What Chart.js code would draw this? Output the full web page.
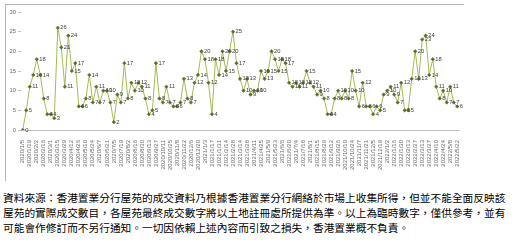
<!DOCTYPE html>
<html>
<head>
<meta charset="utf-8">
<script src="https://cdn.jsdelivr.net/npm/chart.js@4/dist/chart.umd.min.js"></script>
<style>
  html, body { margin: 0; padding: 0; background: #fff; }
  body { width: 523px; height: 245px; position: relative; overflow: hidden; }
  #frame { position: absolute; left: 5px; top: 4px; width: 458px; height: 176px;
           border-top: 1px solid #b4b4b4; border-left: 1px solid #b4b4b4; }
  #wrap { position: absolute; left: 0; top: 0; width: 523px; height: 185px; }
  #note { position: absolute; left: 3px; top: 190px; width: 520px;
          font-family: "Noto Sans CJK TC", "Noto Sans CJK SC", sans-serif;
          font-size: 10.7px; line-height: 15px; color: #000; white-space: nowrap; }
</style>
</head>
<body>
<div id="frame"></div>
<div id="wrap"><canvas id="c"></canvas></div>
<div id="note">資料來源：香港置業分行屋苑的成交資料乃根據香港置業分行網絡於市場上收集所得，但並不能全面反映該<br>屋苑的實際成交數目，各屋苑最終成交數字將以土地註冊處所提供為準。以上為臨時數字，僅供參考，並有<br>可能會作修訂而不另行通知。一切因依賴上述內容而引致之損失，香港置業概不負責。</div>
<script>
// Weekly periods (category axis)
const weeks = [
  "2020/1/5","2020/1/12","2020/1/19","2020/1/26","2020/2/2","2020/2/9","2020/2/16","2020/2/23",
  "2020/3/1","2020/3/8","2020/3/15","2020/3/22","2020/3/29","2020/4/5","2020/4/12","2020/4/19",
  "2020/4/26","2020/5/3","2020/5/10","2020/5/17","2020/5/24","2020/5/31","2020/6/7","2020/6/14",
  "2020/6/21","2020/6/28","2020/7/5","2020/7/12","2020/7/19","2020/7/26","2020/8/2","2020/8/9",
  "2020/8/16","2020/8/23","2020/8/30","2020/9/6","2020/9/13","2020/9/20","2020/9/27","2020/10/4",
  "2020/10/11","2020/10/18","2020/10/25","2020/11/1","2020/11/8","2020/11/15","2020/11/22","2020/11/29",
  "2020/12/6","2020/12/13","2020/12/20","2020/12/27","2021/1/3","2021/1/10","2021/1/17","2021/1/24",
  "2021/1/31","2021/2/7","2021/2/14","2021/2/21","2021/2/28","2021/3/7","2021/3/14","2021/3/21",
  "2021/3/28","2021/4/4","2021/4/11","2021/4/18","2021/4/25","2021/5/2","2021/5/9","2021/5/16",
  "2021/5/23","2021/5/30","2021/6/6","2021/6/13","2021/6/20","2021/6/27","2021/7/4","2021/7/11",
  "2021/7/18","2021/7/25","2021/8/1","2021/8/8","2021/8/15","2021/8/22","2021/8/29","2021/9/5",
  "2021/9/12","2021/9/19","2021/9/26","2021/10/3","2021/10/10","2021/10/17","2021/10/24","2021/10/31",
  "2021/11/7","2021/11/14","2021/11/21","2021/11/28","2021/12/5","2021/12/12","2021/12/19","2021/12/26",
  "2022/1/2","2022/1/9","2022/1/16","2022/1/23","2022/1/30","2022/2/6","2022/2/13","2022/2/20",
  "2022/2/27","2022/3/6","2022/3/13","2022/3/20","2022/3/27","2022/4/3","2022/4/10","2022/4/17",
  "2022/4/24","2022/5/1","2022/5/8","2022/5/15","2022/5/22"
];

// Transactions per week
const deals = [
  0,5,11,14,18,14,8,4,4,3,
  26,21,11,24,15,17,6,6,8,14,
  7,11,7,10,10,7,2,9,7,17,
  8,12,10,12,11,8,4,5,17,8,
  7,11,7,6,6,7,13,8,7,12,
  14,20,18,12,4,18,14,20,15,20,
  25,17,13,10,13,9,10,10,15,13,
  15,20,18,15,18,17,12,11,12,11,
  12,15,12,11,9,10,8,4,4,8,
  10,8,10,8,15,10,6,12,6,6,
  4,6,5,9,10,11,9,7,12,5,
  5,13,20,13,23,24,14,18,11,8,
  10,7,11,7,6
];

// Value axis ticks
const yTicks = [0, 5, 10, 15, 20, 25, 30];

// Writes each point's value just to the right of its marker
const pointValues = {
  id: 'pointValues',
  afterDatasetsDraw(chart) {
    const ctx = chart.ctx;
    const meta = chart.getDatasetMeta(0);
    const vals = chart.data.datasets[0].data;
    ctx.save();
    ctx.font = '5.8px "Liberation Sans", Arial, sans-serif';
    ctx.fillStyle = '#404040';
    ctx.textAlign = 'left';
    ctx.textBaseline = 'middle';
    meta.data.forEach((pt, i) => {
      ctx.fillText(String(vals[i]), pt.x + 2.5, pt.y);
    });
    ctx.restore();
  }
};

new Chart(document.getElementById('c'), {
  type: 'line',
  data: {
    labels: weeks,
    datasets: [{
      data: deals,
      borderColor: '#a2bc55',
      borderWidth: 1,
      pointStyle: 'rectRot',
      pointRadius: 1.8,
      pointBackgroundColor: '#5b6b2c',
      pointBorderColor: '#5b6b2c',
      pointBorderWidth: 0.5,
      tension: 0,
      fill: false
    }]
  },
  options: {
    responsive: true,
    maintainAspectRatio: false,
    animation: false,
    events: [],
    layout: { padding: { left: 0, right: 64, top: 12, bottom: 0 } },
    plugins: { legend: { display: false }, tooltip: { enabled: false } },
    scales: {
      x: {
        type: 'category',
        offset: true,
        grid: { display: false },
        border: { display: true, color: '#bfbfbf', width: 1 },
        ticks: {
          autoSkip: false,
          maxRotation: 90,
          minRotation: 90,
          padding: 2,
          color: '#6a6a6a',
          font: { size: 6, family: '"Liberation Sans", Arial, sans-serif' },
          callback: function (v, i) { return i % 2 === 0 ? weeks[i] : ''; }
        },
        afterFit(scale) { scale.height = 55; }
      },
      y: {
        min: yTicks[0],
        max: yTicks[yTicks.length - 1],
        afterBuildTicks(scale) { scale.ticks = yTicks.map(v => ({ value: v })); },
        grid: { drawOnChartArea: false, drawTicks: true, tickLength: 3, color: '#bfbfbf' },
        border: { display: false },
        ticks: {
          padding: 2,
          color: '#6a6a6a',
          font: { size: 5.8, family: '"Liberation Sans", Arial, sans-serif' }
        },
        afterFit(scale) { scale.width = 21; }
      }
    }
  },
  plugins: [pointValues]
});
</script>
</body>
</html>
